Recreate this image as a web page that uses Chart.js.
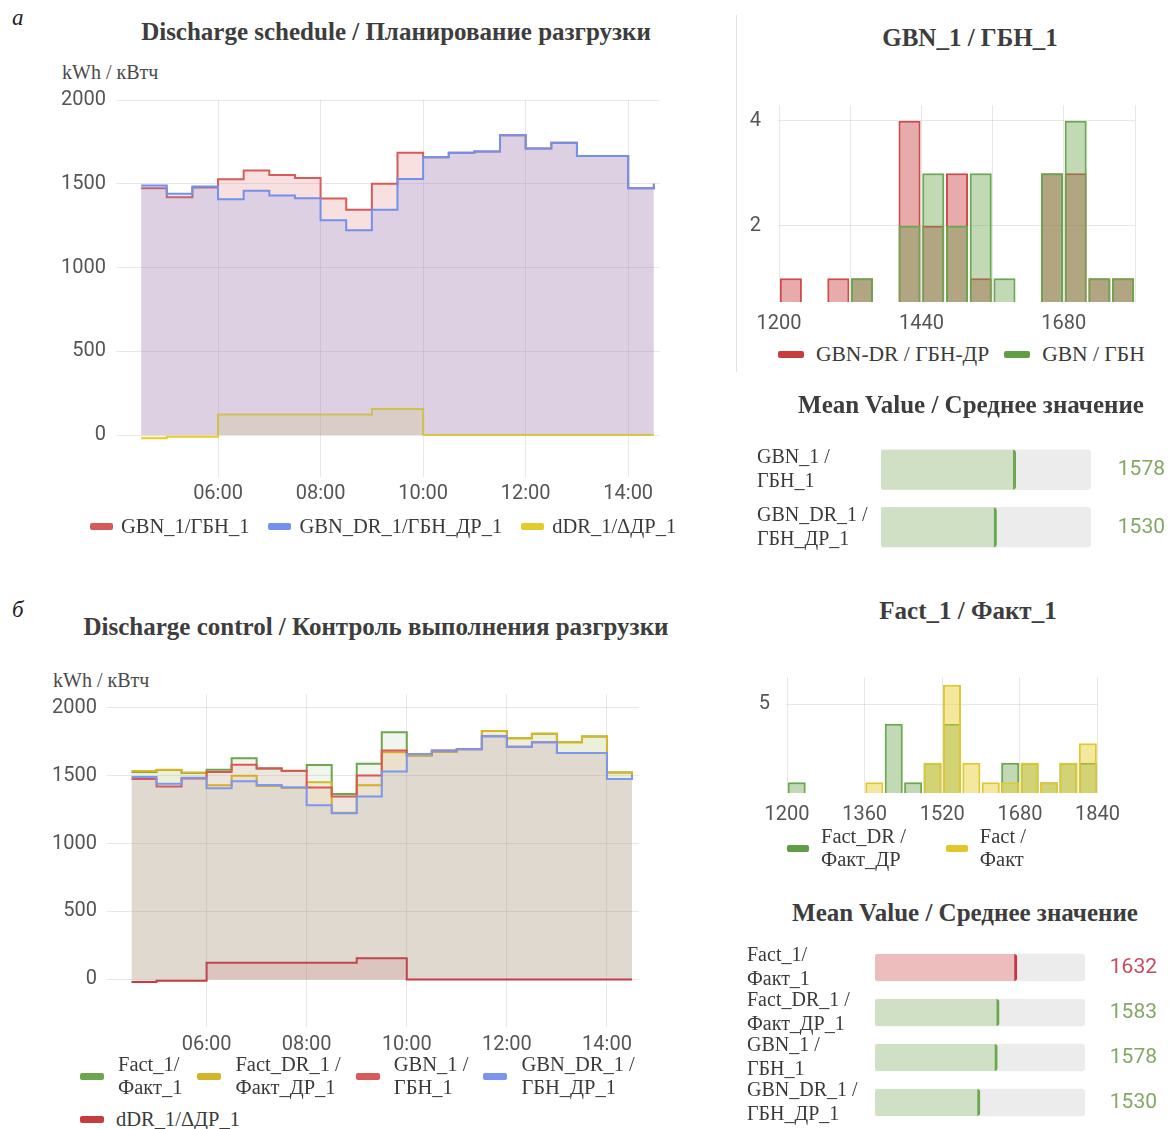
<!DOCTYPE html>
<html>
<head>
<meta charset="utf-8">
<script src="https://cdn.jsdelivr.net/npm/chart.js@4.4.1/dist/chart.umd.min.js"></script>
<style>
  body { margin: 0; width: 1172px; height: 1129px; background: #fff; position: relative; overflow: hidden;
         font-family: 'Liberation Serif', 'Times New Roman', serif; color: #333; }
  canvas { position: absolute; }
  .title { position: absolute; width: 640px; text-align: center; font-weight: bold; font-size: 25px;
           line-height: 30px; color: #3d3d3d; white-space: nowrap; }
  .unit { position: absolute; font-size: 20px; line-height: 24px; color: #4a4a4a; white-space: nowrap; }
  .panel { position: absolute; font-style: italic; font-size: 23px; line-height: 26px; color: #222; }
  .legend { position: absolute; display: flex; align-items: center; font-size: 20.5px; line-height: 23px;
            color: #3a3a3a; white-space: nowrap; }
  .legend .item { display: flex; align-items: center; }
  .legend .sw { height: 7px; border-radius: 2px; }
  .sep { position: absolute; left: 736px; top: 15px; width: 1px; height: 357px; background: #e2e2e2; }
</style>
</head>
<body>
<div class="panel" style="left:12px;top:5px">а</div>
<div class="panel" style="left:12px;top:597px">б</div>
<div class="sep"></div>

<div class="title" style="left:76px;top:17px">Discharge schedule / Планирование разгрузки</div>
<div class="unit" style="left:62px;top:60px">kWh / кВтч</div>
<canvas id="schedule" width="625" height="442" style="left:40px;top:78px"></canvas>
<div class="legend" id="legSchedule" style="left:90px;top:515px"></div>

<div class="title" style="left:650px;top:23px">GBN_1 / ГБН_1</div>
<canvas id="histPlan" width="405" height="260" style="left:740px;top:75px"></canvas>
<div class="legend" id="legHistPlan" style="left:778px;top:343px;font-size:21.5px"></div>

<div class="title" style="left:651px;top:390px">Mean Value / Среднее значение</div>
<canvas id="meanPlan" width="420" height="163" style="left:750px;top:417px"></canvas>

<div class="title" style="left:56px;top:612px">Discharge control / Контроль выполнения разгрузки</div>
<div class="unit" style="left:53px;top:668px">kWh / кВтч</div>
<canvas id="control" width="612" height="393" style="left:30px;top:672px"></canvas>
<div class="legend" id="legControl" style="left:80px;top:1053px"></div>
<div class="legend" id="legControl2" style="left:80px;top:1108px"></div>

<div class="title" style="left:648px;top:596px">Fact_1 / Факт_1</div>
<canvas id="histFact" width="390" height="180" style="left:740px;top:648px"></canvas>
<div class="legend" id="legHistFact" style="left:787px;top:825px"></div>

<div class="title" style="left:645px;top:898px">Mean Value / Среднее значение</div>
<canvas id="meanFact" width="430" height="228" style="left:740px;top:921px"></canvas>

<script>
((document, Chart) => {
  /* Data: half-hour steps */
  const times = ['04:30', '05:00', '05:30', '06:00', '06:30', '07:00', '07:30', '08:00', '08:30', '09:00', '09:30',
    '10:00', '10:30', '11:00', '11:30', '12:00', '12:30', '13:00', '13:30', '14:00', '14:30'];
  const gbn1 = [1474, 1420, 1478, 1527, 1579, 1553, 1535, 1412, 1345, 1500, 1685,
    1658, 1685, 1693, 1790, 1711, 1745, 1666, 1666, 1474, 1500];
  const gbnDr1 = [1490, 1440, 1484, 1407, 1458, 1430, 1414, 1282, 1223, 1345, 1529,
    1658, 1685, 1693, 1790, 1711, 1745, 1666, 1666, 1474, 1500];
  const dDr1 = [-18, -10, -10, 123, 123, 123, 123, 123, 123, 156, 156,
    0, 0, 0, 0, 0, 0, 0, 0, 0, 0];
  const fact1 = [1526, 1540, 1518, 1543, 1628, 1550, 1533, 1577, 1365, 1586, 1818,
    1647, 1676, 1696, 1827, 1774, 1808, 1745, 1788, 1523, 1500];
  const factDr1 = [1533, 1543, 1523, 1428, 1499, 1423, 1409, 1450, 1226, 1428, 1671,
    1647, 1676, 1696, 1827, 1774, 1808, 1745, 1788, 1523, 1505];
  const energyTicks = [0, 500, 1000, 1500, 2000];

  /* Histograms: bin starts and counts */
  const binWidth = 40;
  const planBins = [1200, 1280, 1320, 1400, 1440, 1480, 1520, 1560, 1640, 1680, 1720, 1760];
  const planDrCounts = [1, 1, 1, 4, 2, 3, 1, 0, 3, 3, 1, 1];
  const planCounts = [0, 0, 1, 2, 3, 2, 3, 1, 3, 4, 1, 1];
  const planCountTicks = [2, 4];
  const factBins = [1200, 1360, 1400, 1440, 1480, 1520, 1560, 1600, 1640, 1680, 1720, 1760, 1800];
  const factDrCounts = [1, 0, 4, 1, 2, 4, 0, 0, 2, 2, 1, 2, 2];
  const factCounts = [0, 1, 0, 0, 2, 6, 2, 1, 1, 2, 1, 2, 3];
  const factCountTicks = [5];

  /* Mean values */
  const planMeanLabels = [['GBN_1 /', 'ГБН_1'], ['GBN_DR_1 /', 'ГБН_ДР_1']];
  const planMeans = [1578, 1530];
  const factMeanLabels = [['Fact_1/', 'Факт_1'], ['Fact_DR_1 /', 'Факт_ДР_1'], ['GBN_1 /', 'ГБН_1'], ['GBN_DR_1 /', 'ГБН_ДР_1']];
  const factMeans = [1632, 1583, 1578, 1530];

  /* Styles */
  const GRID = 'rgba(0,0,0,0.09)';
  const TICK = '#555';
  const tickFont = { family: 'Roboto', size: 20 };
  const serifFont = { family: "'Liberation Serif'", size: 20, lineHeight: 1.2 };
  const C = {
    red: '#d95a5a', blue: '#7292ea', yellow: '#e6cc2e', green: '#6ea54f', mustard: '#d6b726', darkRed: '#c83c3c',
  };

  Chart.defaults.font.family = 'Roboto';

  const toHours = (t) => Number(t.slice(0, 2)) + Number(t.slice(3)) / 60;
  const points = (values) => values.map((v, i) => ({ x: toHours(times[i]), y: v }));
  const hhmm = (v) => `${String(v).padStart(2, '0')}:00`;
  const fixedTicks = (values) => (scale) => { scale.ticks = values.map((value) => ({ value })); };

  const lineChart = (id, series, opts) => new Chart(document.getElementById(id), {
    type: 'line',
    data: {
      datasets: series.map((s) => ({
        label: s.label,
        data: points(s.values),
        borderColor: s.color,
        backgroundColor: s.fill,
        borderWidth: 2,
        pointRadius: 0,
        stepped: true,
        fill: 'origin',
        order: s.order,
      })),
    },
    options: {
      responsive: false,
      animation: false,
      devicePixelRatio: 1,
      layout: { padding: opts.padding },
      plugins: { legend: { display: false }, tooltip: { enabled: false } },
      scales: {
        x: {
          type: 'linear',
          min: 4.01,
          max: opts.xMax,
          grid: { color: GRID, drawTicks: false },
          border: { display: false },
          ticks: {
            stepSize: 2, includeBounds: false, padding: opts.xPad, color: TICK, font: tickFont,
            maxRotation: 0, callback: hhmm,
          },
          afterFit: (scale) => { scale.height = opts.xHeight; },
        },
        y: {
          min: opts.yMin,
          max: opts.yMax,
          grid: { color: GRID, drawTicks: false },
          border: { display: false },
          ticks: { padding: 10, color: TICK, font: tickFont, callback: (v) => String(v) },
          afterBuildTicks: fixedTicks(energyTicks),
          afterFit: (scale) => { scale.width = opts.yWidth; },
        },
      },
    },
  });

  const histChart = (id, bins, series, opts) => new Chart(document.getElementById(id), {
    type: 'bar',
    data: {
      datasets: series.map((s) => ({
        label: s.label,
        data: bins.map((b, i) => ({ x: b + binWidth / 2, y: s.counts[i] })).filter((p) => p.y > 0),
        backgroundColor: s.fill,
        borderColor: s.color,
        borderWidth: 2,
        grouped: false,
        barPercentage: 0.93,
        categoryPercentage: 1,
        clip: 0,
        order: s.order,
      })),
    },
    options: {
      responsive: false,
      animation: false,
      devicePixelRatio: 1,
      layout: { padding: opts.padding },
      plugins: { legend: { display: false }, tooltip: { enabled: false } },
      scales: {
        x: {
          type: 'linear',
          offset: false,
          min: opts.xMin,
          max: opts.xMax,
          grid: { color: GRID, drawTicks: false, offset: false },
          border: { display: false },
          ticks: {
            stepSize: opts.xStep, padding: 10, color: TICK, font: tickFont, maxRotation: 0, autoSkip: false,
            callback: (v) => ((v - opts.xMin) % opts.labelEvery === 0 ? String(v) : ''),
          },
          afterFit: (scale) => { scale.height = opts.xHeight; },
        },
        y: {
          min: opts.yMin,
          max: opts.yMax,
          grid: { color: GRID, drawTicks: false },
          border: { display: false },
          ticks: { padding: opts.yPad, color: TICK, font: tickFont },
          afterBuildTicks: fixedTicks(opts.yTicks),
          afterFit: (scale) => { scale.width = opts.yWidth; },
        },
      },
    },
  });

  const meanChart = (id, labels, means, opts) => new Chart(document.getElementById(id), {
    type: 'bar',
    data: {
      labels,
      datasets: [
        {
          data: means,
          base: opts.min,
          backgroundColor: opts.fills,
          borderColor: opts.colors,
          borderWidth: { left: 0, top: 0, bottom: 0, right: 3 },
          borderSkipped: false,
          borderRadius: 3,
          barThickness: opts.thickness,
          order: 0,
        },
        {
          data: means.map(() => opts.max),
          base: opts.min,
          backgroundColor: '#ececec',
          borderRadius: 4,
          borderWidth: 0,
          barThickness: opts.thickness,
          order: 1,
        },
      ],
    },
    options: {
      indexAxis: 'y',
      responsive: false,
      animation: false,
      devicePixelRatio: 1,
      layout: { padding: { left: 7, top: 0, right: opts.rightPad, bottom: 0 } },
      plugins: { legend: { display: false }, tooltip: { enabled: false } },
      scales: {
        x: { display: false, stacked: false, min: opts.min, max: opts.max },
        y: {
          stacked: true,
          offset: true,
          grid: { display: false },
          border: { display: false },
          ticks: { crossAlign: 'far', color: '#3a3a3a', font: serifFont, padding: 0, autoSkip: false },
          afterFit: (scale) => { scale.width = opts.leftWidth; },
        },
        y2: {
          type: 'category',
          position: 'right',
          offset: true,
          labels: means.map(String),
          grid: { display: false },
          border: { display: false },
          ticks: {
            padding: 0,
            crossAlign: 'far',
            autoSkip: false,
            font: { family: 'Roboto', size: 21 },
            color: (ctx) => opts.textColors[ctx.index],
          },
          afterFit: (scale) => { scale.width = opts.rightWidth; },
        },
      },
    },
  });

  const makeLegend = (id, items, opts) => {
    const box = document.getElementById(id);
    box.style.gap = `${opts.gap}px`;
    items.forEach((it) => {
      const item = document.createElement('div');
      item.className = 'item';
      const sw = document.createElement('span');
      sw.className = 'sw';
      sw.style.width = `${opts.swWidth}px`;
      sw.style.marginRight = `${opts.swGap}px`;
      sw.style.background = it.color;
      const txt = document.createElement('div');
      [].concat(it.label).forEach((line) => {
        const l = document.createElement('div');
        l.textContent = line;
        txt.appendChild(l);
      });
      item.appendChild(sw);
      item.appendChild(txt);
      box.appendChild(item);
    });
  };

  const init = () => {
    lineChart('schedule', [
      { label: 'GBN_1/ГБН_1', values: gbn1, color: C.red, fill: 'rgba(217,88,88,0.19)', order: 1 },
      { label: 'GBN_DR_1/ГБН_ДР_1', values: gbnDr1, color: C.blue, fill: 'rgba(114,146,234,0.2)', order: 0 },
      { label: 'dDR_1/ΔДР_1', values: dDr1, color: C.yellow, fill: 'rgba(230,204,46,0.18)', order: 0 },
    ], {
      padding: { top: 8, right: 5, left: 0, bottom: 0 },
      xMax: 14.62, xPad: 5, xHeight: 43, yMin: -250, yMax: 2000, yWidth: 76,
    });

    lineChart('control', [
      { label: 'Fact_1/Факт_1', values: fact1, color: C.green, fill: 'rgba(110,165,79,0.1)', order: 3 },
      { label: 'Fact_DR_1/Факт_ДР_1', values: factDr1, color: C.mustard, fill: 'rgba(214,183,38,0.1)', order: 2 },
      { label: 'GBN_1/ГБН_1', values: gbn1, color: '#dc5656', fill: 'rgba(220,86,86,0.1)', order: 1 },
      { label: 'GBN_DR_1/ГБН_ДР_1', values: gbnDr1, color: '#7b97ee', fill: 'rgba(123,151,238,0.1)', order: 0 },
      { label: 'dDR_1/ΔДР_1', values: dDr1, color: C.darkRed, fill: 'rgba(200,60,60,0.13)', order: 0 },
    ], {
      padding: { top: 7, right: 3, left: 0, bottom: 0 },
      xMax: 14.64, xPad: 6, xHeight: 38, yMin: -350, yMax: 2100, yWidth: 77,
    });

    histChart('histPlan', planBins, [
      { label: 'GBN-DR / ГБН-ДР', counts: planDrCounts, color: '#d04a4a', fill: 'rgba(200,60,60,0.43)', order: 1 },
      { label: 'GBN / ГБН', counts: planCounts, color: '#6aa84f', fill: 'rgba(100,160,70,0.4)', order: 0 },
    ], {
      padding: { top: 10, right: 7, left: 0, bottom: 0 },
      xMin: 1200, xMax: 1800, xStep: 120, labelEvery: 240, xHeight: 33,
      yMin: 0.55, yMax: 4.3, yTicks: planCountTicks, yPad: 18, yWidth: 39,
    });

    histChart('histFact', factBins, [
      { label: 'Fact_DR / Факт_ДР', counts: factDrCounts, color: '#6aa84f', fill: 'rgba(100,160,70,0.4)', order: 1 },
      { label: 'Fact / Факт', counts: factCounts, color: '#e2c830', fill: 'rgba(230,205,40,0.45)', order: 0 },
    ], {
      padding: { top: 9, right: 11, left: 0, bottom: 0 },
      xMin: 1200, xMax: 1840, xStep: 160, labelEvery: 160, xHeight: 35,
      yMin: 0.45, yMax: 6.4, yTicks: factCountTicks, yPad: 17, yWidth: 47,
    });

    const greenBar = { fill: '#cfe0c4', color: '#6aa84f', text: '#84a864' };
    const redBar = { fill: '#ebbdbd', color: '#c9363e', text: '#c84c5a' };

    meanChart('meanPlan', planMeanLabels, planMeans, {
      min: 1240, max: 1767, thickness: 40, leftWidth: 124, rightWidth: 74, rightPad: 5,
      fills: [greenBar.fill, greenBar.fill],
      colors: [greenBar.color, greenBar.color],
      textColors: [greenBar.text, greenBar.text],
    });

    meanChart('meanFact', factMeanLabels, factMeans, {
      min: 1240, max: 1820, thickness: 27, leftWidth: 128, rightWidth: 72, rightPad: 13,
      fills: [redBar.fill, greenBar.fill, greenBar.fill, greenBar.fill],
      colors: [redBar.color, greenBar.color, greenBar.color, greenBar.color],
      textColors: [redBar.text, greenBar.text, greenBar.text, greenBar.text],
    });

    makeLegend('legSchedule', [
      { label: 'GBN_1/ГБН_1', color: '#d65a5a' },
      { label: 'GBN_DR_1/ГБН_ДР_1', color: '#7390ec' },
      { label: 'dDR_1/ΔДР_1', color: '#e4cb2c' },
    ], { gap: 19, swWidth: 23, swGap: 8 });

    makeLegend('legHistPlan', [
      { label: 'GBN-DR / ГБН-ДР', color: '#c83c3c' },
      { label: 'GBN / ГБН', color: '#5f9e44' },
    ], { gap: 15, swWidth: 26, swGap: 12 });

    makeLegend('legControl', [
      { label: ['Fact_1/', 'Факт_1'], color: '#6ea54f' },
      { label: ['Fact_DR_1 /', 'Факт_ДР_1'], color: '#d4b52a' },
      { label: ['GBN_1 /', 'ГБН_1'], color: '#d65a5a' },
      { label: ['GBN_DR_1 /', 'ГБН_ДР_1'], color: '#7a95ee' },
    ], { gap: 15, swWidth: 24, swGap: 14 });

    makeLegend('legControl2', [
      { label: 'dDR_1/ΔДР_1', color: '#c43c3c' },
    ], { gap: 18, swWidth: 24, swGap: 12 });

    makeLegend('legHistFact', [
      { label: ['Fact_DR /', 'Факт_ДР'], color: '#5f9e44' },
      { label: ['Fact /', 'Факт'], color: '#e2c62a' },
    ], { gap: 40, swWidth: 22, swGap: 12 });
  };

  init();
})(document, Chart);
</script>
</body>
</html>
